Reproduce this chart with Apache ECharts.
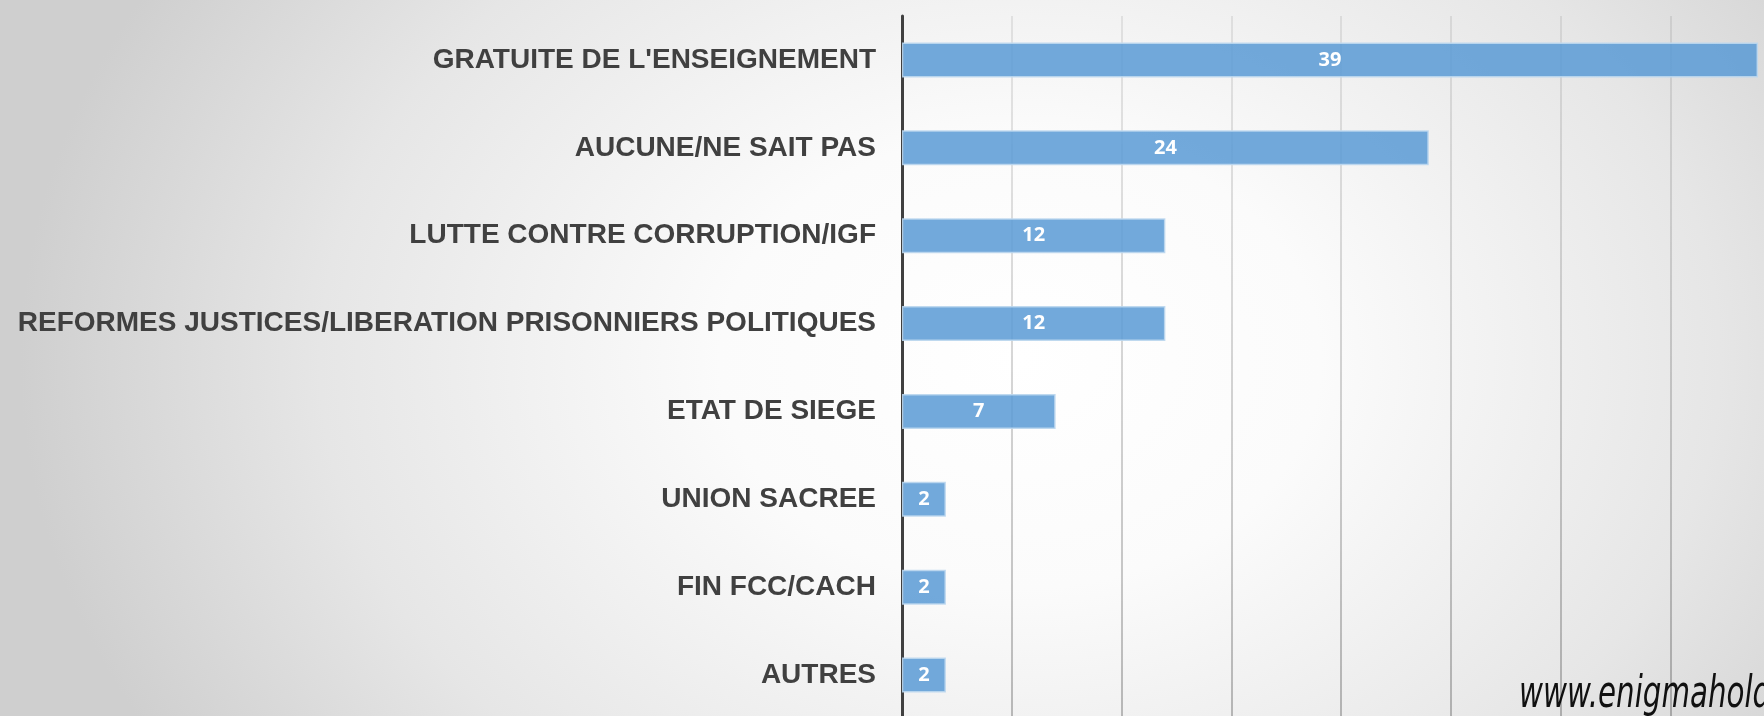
<!DOCTYPE html>
<html>
<head>
<meta charset="utf-8">
<title>Priorités</title>
<script src="https://cdn.jsdelivr.net/npm/echarts@6/dist/echarts.min.js"></script>
<style>
  html, body { margin: 0; padding: 0; }
  #chart {
    width: 1764px;
    height: 716px;
    background: radial-gradient(ellipse 1000px 760px at 1020px 360px, #ffffff 0%, #fbfbfb 30%, #e6e6e6 70%, #cfcfcf 100%);
  }
</style>
</head>
<body>
<div id="chart"></div>
<script>
  // categories top to bottom as in the picture
  const categories = [
    "GRATUITE DE L'ENSEIGNEMENT",
    'AUCUNE/NE SAIT PAS',
    'LUTTE CONTRE CORRUPTION/IGF',
    'REFORMES JUSTICES/LIBERATION PRISONNIERS POLITIQUES',
    'ETAT DE SIEGE',
    'UNION SACREE',
    'FIN FCC/CACH',
    'AUTRES',
  ];
  const values = [39, 24, 12, 12, 7, 2, 2, 2];
  const watermark = 'www.enigmaholding.com';

  const chart = echarts.init(document.getElementById('chart'));

  const option = {
    backgroundColor: 'transparent',
    animation: false,
    grid: {
      left: 902,
      top: 16,
      width: 878,
      height: 703,
      containLabel: false,
      outerBoundsMode: 'none',
    },
    xAxis: {
      type: 'value',
      min: 0,
      max: 40,
      interval: 5,
      axisLine: { show: false },
      axisTick: { show: false },
      axisLabel: { show: false },
      splitLine: {
        show: true,
        lineStyle: {
          width: 1.5,
          color: {
            type: 'linear',
            x: 0, y: 0, x2: 0, y2: 1,
            colorStops: [
              { offset: 0, color: 'rgba(0, 0, 0, 0.10)' },
              { offset: 1, color: 'rgba(0, 0, 0, 0.33)' },
            ],
          },
        },
      },
    },
    yAxis: {
      type: 'category',
      inverse: true,
      data: categories,
      axisLine: {
        show: true,
        lineStyle: { color: '#404040', width: 3 },
      },
      axisTick: { show: false },
      axisLabel: {
        margin: 26,
        color: '#404040',
        fontFamily: '"Liberation Sans", Arial, sans-serif',
        fontWeight: 'bold',
        fontSize: 28,
      },
      splitLine: { show: false },
    },
    series: [
      {
        type: 'bar',
        data: values,
        barWidth: 35,
        itemStyle: {
          color: 'rgba(91, 155, 213, 0.86)',
          borderColor: 'rgba(189, 215, 238, 0.9)',
          borderWidth: 1.5,
        },
        label: {
          show: true,
          position: 'inside',
          color: '#ffffff',
          fontFamily: '"Open Sans", sans-serif',
          fontWeight: 'bold',
          fontSize: 20,
        },
      },
    ],
    graphic: [
      {
        type: 'text',
        left: 1519,
        top: 674,
        scaleX: 0.74,
        style: {
          text: watermark,
          fill: '#111111',
          font: 'italic 44px "DejaVu Sans Condensed", "Liberation Sans", sans-serif',
        },
      },
    ],
  };

  chart.setOption(option);
</script>
</body>
</html>
